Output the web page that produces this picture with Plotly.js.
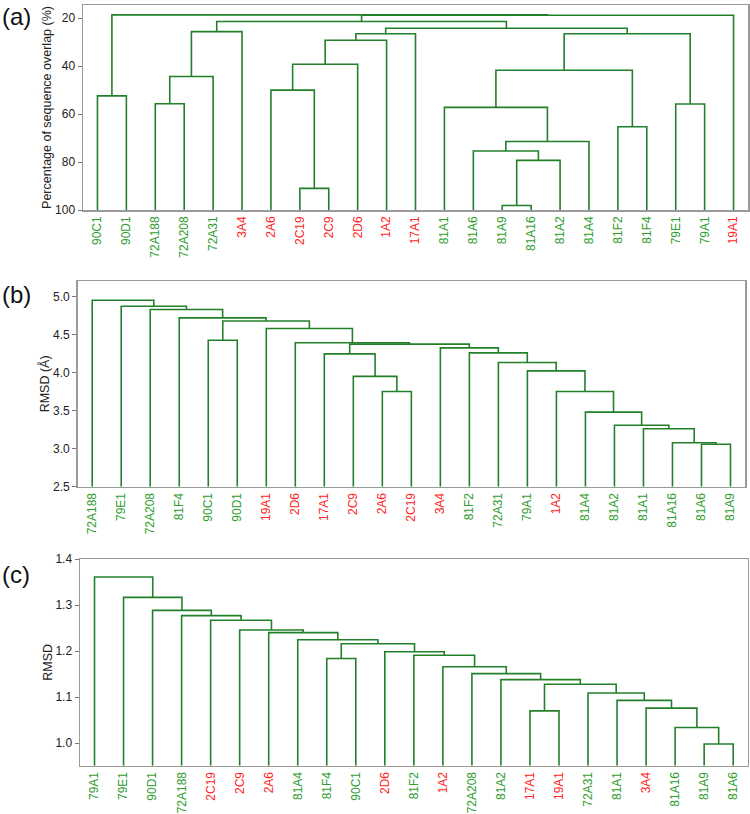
<!DOCTYPE html>
<html>
<head>
<meta charset="utf-8">
<script src="https://cdn.plot.ly/plotly-3.0.1.min.js"></script>
<style>
  html, body { margin: 0; padding: 0; background: #ffffff; }
  #chart { width: 750px; height: 814px; }
</style>
</head>
<body>
<div id="chart"></div>
<script>
// ---------- (a) sequence-overlap dendrogram ----------
const leavesA = ['90C1','90D1','72A188','72A208','72A31','3A4','2A6','2C19','2C9','2D6','1A2','17A1',
                 '81A1','81A6','81A9','81A16','81A2','81A4','81F2','81F4','79E1','79A1','19A1'];
// merge k joins leftA[k] and rightA[k] (leaf name or index of an earlier merge) at heightA[k]
const leftA   = ['90C1','72A188', 1, 2,'2C19','2A6', 5, 6, 7,'81A9', 9,'81A6',11,'81A1','81F2',13,'79E1',15, 8, 3,19, 0];
const rightA  = ['90D1','72A208','72A31','3A4','2C9', 4,'2D6','1A2','17A1','81A16','81A2',10,'81A4',12,'81F4',14,'79A1',16,17,18,'19A1',20];
const heightA = [52.4, 55.7, 44.3, 25.6, 91.0, 50.0, 39.2, 29.2, 26.5, 98.1, 79.3, 75.4, 71.4, 57.2, 65.3, 41.7, 55.8, 26.5, 24.2, 21.4, 18.8, 18.6];

// ---------- (b) structural RMSD dendrogram (Å) ----------
const leavesB = ['72A188','79E1','72A208','81F4','90C1','90D1','19A1','2D6','17A1','2C9','2A6','2C19',
                 '3A4','81F2','72A31','79A1','1A2','81A4','81A2','81A1','81A16','81A6','81A9'];
const leftB   = ['81A6','81A16','81A1','81A2','81A4','1A2','79A1','72A31','81F2','3A4','2A6','2C9','17A1',12,'2D6','19A1','90C1',16,'81F4','72A208','79E1','72A188'];
const rightB  = ['81A9', 0, 1, 2, 3, 4, 5, 6, 7, 8,'2C19',10,11, 9,13,14,'90D1',15,17,18,19,20];
const heightB = [3.06, 3.079, 3.263, 3.31, 3.483, 3.755, 4.026, 4.137, 4.263, 4.329, 3.755, 3.953, 4.25,
                 4.378, 4.397, 4.584, 4.43, 4.684, 4.724, 4.834, 4.877, 4.956];

// ---------- (c) RMSD dendrogram ----------
const leavesC = ['79A1','79E1','90D1','72A188','2C19','2C9','2A6','81A4','81F4','90C1','2D6','81F2',
                 '1A2','72A208','81A2','17A1','19A1','72A31','81A1','3A4','81A16','81A9','81A6'];
const leftC   = ['81A9','81A16','3A4','81A1','72A31','17A1', 5,'81A2','72A208','1A2','81F2','2D6','81F4', 11,'81A4','2A6','2C9','2C19','72A188','90D1','79E1','79A1'];
const rightC  = ['81A6', 0, 1, 2, 3,'19A1', 4, 6, 7, 8, 9, 10,'90C1', 12, 13, 14, 15, 16, 17, 18, 19, 20];
const heightC = [0.998, 1.034, 1.076, 1.093, 1.109, 1.070, 1.128, 1.138, 1.151, 1.166, 1.191, 1.1985, 1.184,
                 1.216, 1.2246, 1.240, 1.2457, 1.267, 1.277, 1.2885, 1.3167, 1.361];

// Family colour groups for the leaf labels
const redLeaves = ['1A2','2A6','2C9','2C19','2D6','3A4','17A1','19A1'];

// Y-axis ticks
const ticksA = [20, 40, 60, 80, 100];
const ticksB = [2.5, 3.0, 3.5, 4.0, 4.5, 5.0];
const ticksC = [1.0, 1.1, 1.2, 1.3, 1.4];

const LINE_GREEN = '#23802a';
const LABEL_GREEN = '#2e9e2e';
const LABEL_RED = '#ff2424';
const FONT = 'Liberation Sans, Arial, Helvetica, sans-serif';

// Build the elbow segments of a dendrogram from its merge list
function dendroPath(leaves, left, right, height, base) {
  const centers = [];
  const pos = id => typeof id === 'string'
    ? { x: leaves.indexOf(id), y: base }
    : { x: centers[id], y: height[id] };
  const xs = [], ys = [];
  for (let k = 0; k < height.length; k++) {
    const a = pos(left[k]), b = pos(right[k]);
    xs.push(a.x, a.x, b.x, b.x, null);
    ys.push(a.y, height[k], height[k], b.y, null);
    centers[k] = (a.x + b.x) / 2;
  }
  return { x: xs, y: ys };
}

function tickText(leaves) {
  return leaves.map(n => `<span style="color:${redLeaves.includes(n) ? LABEL_RED : LABEL_GREEN}">${n}</span>`);
}

const rangeA = [100, 14.5], rangeB = [2.5, 5.21], rangeC = [0.951, 1.4];
const pathA = dendroPath(leavesA, leftA, rightA, heightA, rangeA[0]);
const pathB = dendroPath(leavesB, leftB, rightB, heightB, rangeB[0]);
const pathC = dendroPath(leavesC, leftC, rightC, heightC, rangeC[0]);

const lineStyle = { color: LINE_GREEN, width: 1.6 };
const traces = [
  { x: pathA.x, y: pathA.y, xaxis: 'x',  yaxis: 'y',  mode: 'lines', line: lineStyle, hoverinfo: 'skip', showlegend: false },
  { x: pathB.x, y: pathB.y, xaxis: 'x2', yaxis: 'y2', mode: 'lines', line: lineStyle, hoverinfo: 'skip', showlegend: false },
  { x: pathC.x, y: pathC.y, xaxis: 'x3', yaxis: 'y3', mode: 'lines', line: lineStyle, hoverinfo: 'skip', showlegend: false }
];

const W = 750, H = 814;
const px = (a, b) => [a / W, b / W];
const py = (top, bottom) => [1 - bottom / H, 1 - top / H];

function xAxis(leaves, dom, anchor) {
  return {
    domain: dom, anchor: anchor, range: [-0.5, 22.5],
    tickmode: 'array', tickvals: leaves.map((_, i) => i), ticktext: tickText(leaves),
    tickangle: -90, ticks: '', showgrid: false, zeroline: false,
    showline: true, mirror: true, linecolor: '#9a9a9a', linewidth: 1.5,
    tickfont: { family: FONT, size: 12 }
  };
}
function yAxis(range, vals, text, dom, anchor, title) {
  return {
    domain: dom, anchor: anchor, range: range,
    tickmode: 'array', tickvals: vals, ticktext: text,
    ticks: 'outside', ticklen: 4, tickcolor: '#777', tickwidth: 1,
    showgrid: false, zeroline: false,
    showline: true, mirror: true, linecolor: '#9a9a9a', linewidth: 1.5,
    tickfont: { family: FONT, size: 12, color: '#222' },
    title: { text: title, font: { family: FONT, size: 12.5, color: '#222' }, standoff: 0 }
  };
}

const labelFont = { family: FONT, size: 24, color: '#111' };
const layout = {
  width: W, height: H,
  margin: { l: 0, r: 0, t: 0, b: 0 },
  paper_bgcolor: '#ffffff', plot_bgcolor: '#ffffff',
  showlegend: false,
  xaxis:  xAxis(leavesA, px(83, 748), 'y'),
  yaxis:  yAxis(rangeA, ticksA, ticksA.map(String), py(5, 210), 'x', 'Percentage of sequence overlap (%)'),
  xaxis2: xAxis(leavesB, px(77.7, 745), 'y2'),
  yaxis2: yAxis(rangeB, ticksB, ticksB.map(v => v.toFixed(1)), py(281, 486.7), 'x2', 'RMSD (Å)'),
  xaxis3: xAxis(leavesC, px(80, 747.7), 'y3'),
  yaxis3: yAxis(rangeC, ticksC, ticksC.map(v => v.toFixed(1)), py(559, 765.7), 'x3', 'RMSD'),
  annotations: [
    { text: '(a)', x: 0, y: 1 - 17 / H, xref: 'paper', yref: 'paper', xanchor: 'left', yanchor: 'middle', showarrow: false, font: labelFont },
    { text: '(b)', x: 0, y: 1 - 294 / H, xref: 'paper', yref: 'paper', xanchor: 'left', yanchor: 'middle', showarrow: false, font: labelFont },
    { text: '(c)', x: 0, y: 1 - 574 / H, xref: 'paper', yref: 'paper', xanchor: 'left', yanchor: 'middle', showarrow: false, font: labelFont }
  ]
};

Plotly.newPlot('chart', traces, layout, { staticPlot: true, displayModeBar: false });
</script>
</body>
</html>
